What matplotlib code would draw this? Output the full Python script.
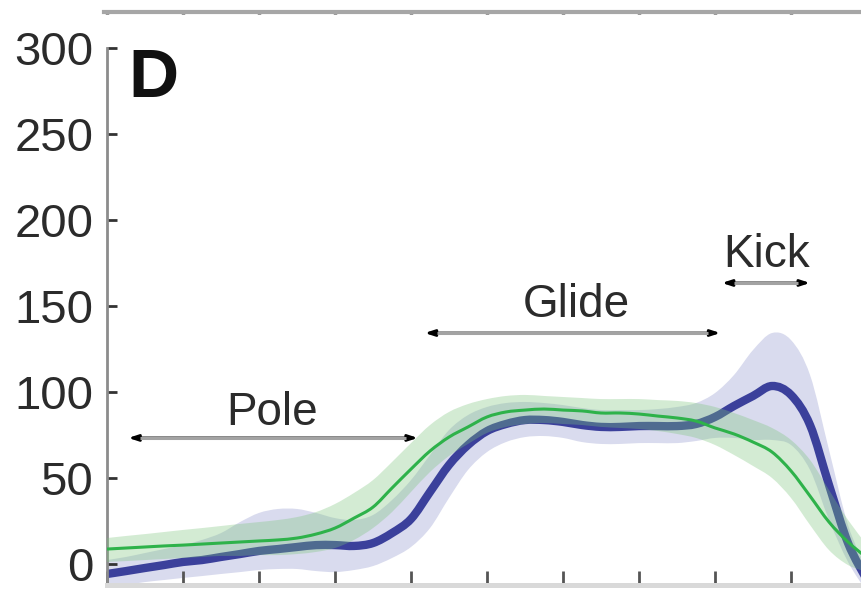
import matplotlib as mpl
mpl.use('Agg')
import matplotlib.pyplot as plt
from matplotlib.path import Path
from matplotlib.patches import PathPatch
import numpy as np

plt.rcParams['font.family'] = ['Liberation Sans', 'DejaVu Sans']

# percent of cycle, sampled every 2.5 %
cycle = np.arange(0, 100.1, 2.5)

blue_mean = [-5.8, -4.1, -2.3, -0.6, 1.2, 2.3, 4.1, 5.8, 7.6, 8.7,
             9.9, 11.0, 11.0, 10.5, 12.2, 18.0, 26.2, 41.9, 57.6, 69.2,
             77.3, 81.4, 83.7, 83.7, 82.6, 80.8, 79.7, 79.7, 80.2, 80.2,
             80.2, 81.4, 85.5, 91.9, 97.7, 103.5, 98.3, 80.8, 45.9, 12.2, -9.3]
blue_hi = [2.3, 4.1, 6.4, 8.7, 11.0, 14.0, 18.0, 24.4, 29.7, 32.0,
           32.0, 29.7, 26.7, 25.6, 28.5, 37.2, 48.8, 63.4, 77.9, 86.6,
           91.3, 93.6, 94.2, 93.6, 92.4, 90.7, 89.5, 89.5, 89.5, 90.1,
           91.3, 93.6, 99.4, 109.9, 124.4, 134.3, 130.2, 109.9, 66.3, 22.7, -3.5]
blue_lo = [-14.0, -12.2, -10.5, -9.3, -8.1, -7.0, -5.8, -4.7, -3.5, -2.9,
           -2.9, -4.1, -4.7, -3.5, -1.2, 3.5, 9.9, 20.9, 38.4, 54.7,
           65.1, 70.9, 73.8, 74.4, 73.3, 70.9, 69.8, 69.8, 70.3, 70.3,
           70.3, 71.5, 73.3, 73.3, 72.1, 72.1, 69.2, 54.7, 25.6, 1.2, -16.3]

green_mean = [8.7, 9.3, 9.9, 10.5, 11.0, 11.6, 12.2, 12.8, 13.4, 14.0,
              15.1, 17.4, 20.9, 26.7, 33.1, 44.2, 55.2, 65.7, 73.8, 79.7,
              85.5, 88.4, 89.5, 90.1, 89.5, 89.0, 87.8, 87.8, 87.2, 86.0,
              84.9, 83.1, 79.1, 75.6, 70.9, 65.1, 54.1, 39.5, 24.4, 12.8, 3.5]
green_hi = [15.1, 16.3, 17.4, 18.6, 19.8, 20.9, 22.1, 23.3, 24.4, 25.6,
            27.3, 30.2, 34.9, 41.3, 48.8, 59.3, 70.3, 80.8, 88.4, 93.0,
            95.9, 97.7, 98.3, 97.7, 97.1, 96.5, 95.9, 95.9, 95.9, 95.3,
            94.8, 93.6, 91.3, 87.8, 83.7, 79.1, 72.1, 60.5, 43.0, 25.6, 11.0]
green_lo = [1.2, 1.7, 2.3, 2.9, 3.5, 4.1, 4.7, 4.7, 5.2, 5.2,
            5.8, 7.0, 9.3, 14.0, 20.9, 30.2, 41.9, 53.5, 62.8, 69.8,
            76.2, 79.7, 81.4, 82.0, 81.4, 80.8, 79.7, 79.1, 78.5, 77.3,
            75.6, 73.3, 69.2, 63.4, 57.0, 50.0, 38.4, 22.7, 8.1, -0.6, -4.7]

# phase labels: (name, start, end)
phases = [("Pole", 2.8, 40.9), ("Glide", 41.8, 80.7), ("Kick", 80.9, 92.5)]
phase_arrow_y = [73.3, 134.3, 163.4]
phase_text_xy = [(21.7, 80.8), (61.8, 143.6), (86.8, 172.7)]

yticks = [0, 50, 100, 150, 200, 250, 300]
xticks = np.arange(0, 101, 10)


def smooth_verts(x, y):
  # cubic bezier control points through every sample (catmull-rom style)
  p = np.column_stack([x, y]).astype(float)
  ext = np.vstack([p[0], p, p[-1]])
  verts = [p[0]]
  for i in range(len(p) - 1):
    a, b, c, d = ext[i], ext[i + 1], ext[i + 2], ext[i + 3]
    verts += [b + (c - a) / 6.0, c - (d - b) / 6.0, c]
  return np.array(verts)


def smooth_line(ax, x, y, **kw):
  v = smooth_verts(x, y)
  codes = [Path.MOVETO] + [Path.CURVE4] * (len(v) - 1)
  ax.add_patch(PathPatch(Path(v, codes), fill=False, **kw))


def smooth_band(ax, x, lo, hi, **kw):
  up = smooth_verts(x, hi)
  dn = smooth_verts(x[::-1], lo[::-1])
  v = np.vstack([up, dn, up[:1]])
  codes = ([Path.MOVETO] + [Path.CURVE4] * (len(up) - 1) +
           [Path.LINETO] + [Path.CURVE4] * (len(dn) - 1) + [Path.CLOSEPOLY])
  ax.add_patch(PathPatch(Path(v, codes), lw=0, **kw))


fig = plt.figure(figsize=(8.61, 5.97), dpi=100)
ax = fig.add_axes([0.1243, 0.0201, 0.8827, 0.8995])

smooth_band(ax, cycle, np.array(blue_lo), np.array(blue_hi), facecolor='#d9dbee', zorder=1)
smooth_line(ax, cycle, blue_mean, edgecolor='#3b409b', lw=6, capstyle='butt', zorder=2)
smooth_band(ax, cycle, np.array(green_lo), np.array(green_hi),
            facecolor=(0.48, 0.77, 0.48), alpha=0.33, zorder=3)
smooth_line(ax, cycle, green_mean, edgecolor='#2eb24a', lw=2.2, zorder=4)

for (name, x0, x1), ya, (tx, ty) in zip(phases, phase_arrow_y, phase_text_xy):
  ax.annotate('', xy=(x0, ya), xytext=(x1, ya),
              arrowprops=dict(arrowstyle='<|-|>,head_length=0.55,head_width=0.18',
                              color='black', lw=2, shrinkA=0, shrinkB=0), zorder=5)
  ax.plot([x0 + 1.6, x1 - 1.6], [ya, ya], color='#a3a3a3', lw=2.2,
          solid_capstyle='butt', zorder=6)
  ax.text(tx, ty, name, fontsize=33, color='#2b2b2b', ha='center', va='baseline')

ax.text(2.8, 271.5, 'D', fontsize=50, fontweight='bold', color='#111111',
        ha='left', va='baseline')

ax.set_xlim(0, 100)
ax.set_ylim(-12.2, 300)
ax.set_xticks(xticks)
ax.set_xticklabels([])
ax.set_yticks(yticks)
ax.set_yticklabels([str(t) for t in yticks], fontsize=34, color='#2b2b2b')
ax.tick_params(axis='y', direction='in', length=7, width=2, color='#333333', pad=10)
ax.tick_params(axis='x', direction='in', length=10, width=2, color='#555555')

for s in ['top', 'right']:
  ax.spines[s].set_visible(False)
ax.spines['left'].set_color('#8c8c8c')
ax.spines['left'].set_linewidth(2)
ax.spines['bottom'].set_color('#d9d9d9')
ax.spines['bottom'].set_linewidth(3.6)

# bottom edge of the panel above
top = fig.add_axes([0.1208, 0.98, 0.8862, 0.001])
top.set_xlim(-0.4, 100)
top.set_xticks(xticks)
top.set_xticklabels([])
top.set_yticks([])
top.tick_params(axis='x', direction='inout', length=3, width=2.5, color='#333333')
for s in ['top', 'right', 'left']:
  top.spines[s].set_visible(False)
top.spines['bottom'].set_color('#a6a6a6')
top.spines['bottom'].set_linewidth(3)
top.patch.set_visible(False)

# tick label of the panel below
fig.text(0.107, -0.055, '200', fontsize=34, color='#2b2b2b', ha='right', va='baseline')

fig.savefig('out.png', dpi=100)
